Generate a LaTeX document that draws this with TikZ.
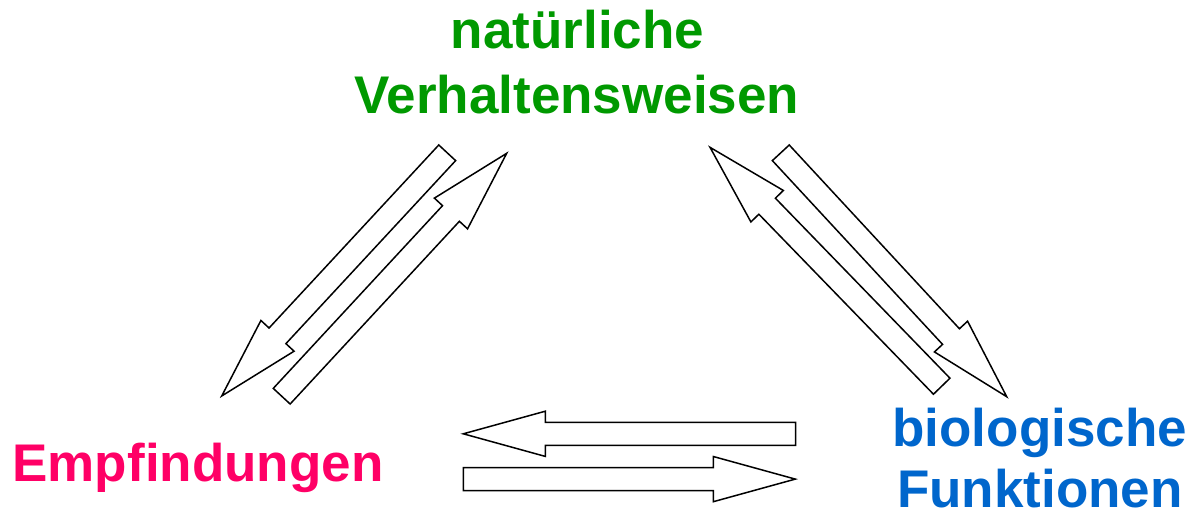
\documentclass[tikz,border=0pt]{standalone}
\usepackage{fontspec}
\setmainfont{Liberation Sans}
\definecolor{natgreen}{RGB}{0,153,0}
\definecolor{empfpink}{RGB}{255,0,102}
\definecolor{biolblue}{RGB}{0,102,204}

% Hollow block arrow from coordinate #1 (tail) to coordinate #2 (tip)
\newcommand\blockarrow[2]{%
  \pgfpointdiff{\pgfpointanchor{#1}{center}}{\pgfpointanchor{#2}{center}}%
  \pgfgetlastxy{\baDX}{\baDY}%
  \pgfmathsetmacro\baAng{atan2(\baDY,\baDX)}%
  \pgfmathsetmacro\baLen{veclen(\baDX,\baDY)}%
  \begin{scope}[shift={(#1)},rotate=\baAng,x=1pt,y=1pt]
    \draw[blockbody] (0,-11.5) -- ({\baLen-82},-11.5) -- ({\baLen-82},-22.6)
      -- (\baLen,0) -- ({\baLen-82},22.6) -- ({\baLen-82},11.5) -- (0,11.5) -- cycle;
  \end{scope}}

\begin{document}
\begin{tikzpicture}[x=1pt,y=-1pt,
  label/.style={inner sep=0pt,anchor=base,font=\fontsize{53}{63}\selectfont\bfseries},
  blockbody/.style={draw=black,fill=white,line width=1.5pt,line join=miter}]
  \useasboundingbox (0,0) rectangle (1191,512);

  % labels
  \node[label,text=natgreen] (natA) at (577.5,48.3) {natürliche};
  \node[label,text=natgreen] (natB) at (576.7,113.3) {Verhaltensweisen};
  \node[label,text=empfpink] (empf) at (198,481) {Empfindungen};
  \node[label,text=biolblue] (bioA) at (1039.7,446) {biologische};
  \node[label,text=biolblue] (bioB) at (1040,507.5) {Funktionen};

  % arrow end points
  \coordinate (aT) at (447.2,152.8);  \coordinate (aH) at (221.7,396.0);
  \coordinate (bT) at (281.7,396.2);  \coordinate (bH) at (506.7,153.3);
  \coordinate (cT) at (941.7,386.2);  \coordinate (cH) at (710.0,147.3);
  \coordinate (dT) at (780.8,152.8);  \coordinate (dH) at (1006.7,396.7);
  \coordinate (eT) at (795.7,433.8);  \coordinate (eH) at (463.3,433.8);
  \coordinate (fT) at (463.3,479.1);  \coordinate (fH) at (795.3,479.1);

  % arrows between the three terms
  \blockarrow{aT}{aH}
  \blockarrow{bT}{bH}
  \blockarrow{cT}{cH}
  \blockarrow{dT}{dH}
  \blockarrow{eT}{eH}
  \blockarrow{fT}{fH}
\end{tikzpicture}
\end{document}
